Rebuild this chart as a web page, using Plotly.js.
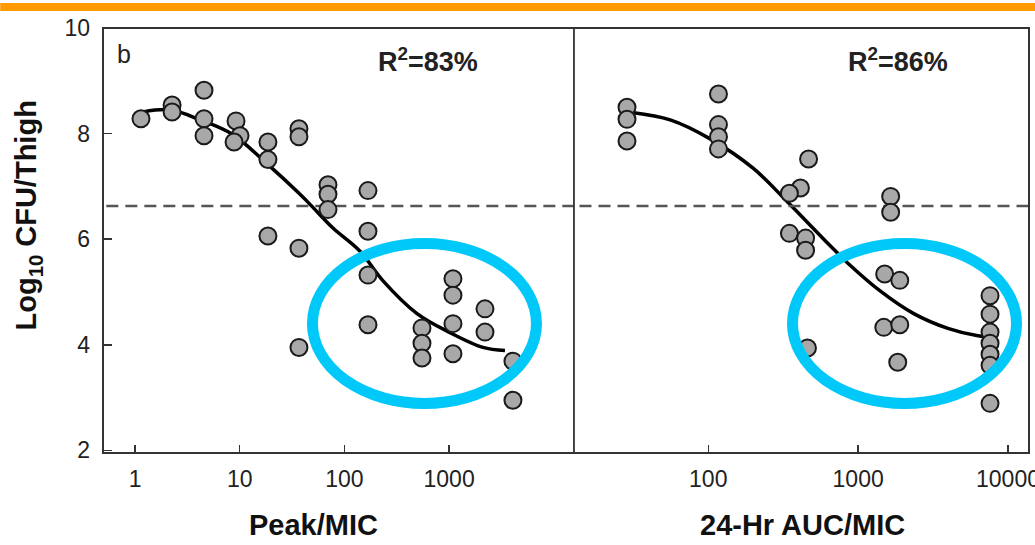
<!DOCTYPE html>
<html>
<head>
<meta charset="utf-8">
<script src="https://cdn.plot.ly/plotly-3.0.1.min.js"></script>
<style>html,body{margin:0;padding:0;background:#fff;}#chart{width:1035px;height:545px;}</style>
</head>
<body>
<div id="chart"></div>
<script>
// Panel a: Peak/MIC
const peakX = [1.14, 2.26, 2.26, 4.56, 4.56, 4.56, 9.22, 10.07, 8.83, 18.6, 18.6, 36.8, 36.8, 18.6, 36.8,
  69.7, 69.7, 69.7, 168, 168, 168, 168, 36.8, 551, 551, 551, 1089, 1089, 1089, 1089, 2203, 2203, 4074, 4074];
const peakY = [8.28, 8.54, 8.41, 8.82, 8.28, 7.96, 8.24, 7.96, 7.84, 7.84, 7.51, 8.09, 7.94, 6.06, 5.83,
  7.03, 6.85, 6.56, 6.92, 6.15, 5.32, 4.38, 3.95, 4.32, 4.03, 3.75, 5.25, 4.94, 4.40, 3.83, 4.68, 4.24, 3.69, 2.95];
const peakFitX = [1.19, 2.16, 4.18, 8.63, 18.2, 37.7, 48, 77.8, 141, 234, 494, 1020, 2107, 3420];
const peakFitY = [8.41, 8.45, 8.26, 7.98, 7.43, 6.85, 6.64, 6.21, 5.77, 5.21, 4.59, 4.23, 3.95, 3.89];

// Panel b: 24-Hr AUC/MIC
const aucX = [28.7, 28.7, 28.7, 117, 117, 117, 117, 467, 412, 348, 348, 446, 446, 459,
  1648, 1648, 1503, 1896, 1483, 1896, 1837, 7586, 7586, 7586, 7586, 7586, 7586, 7586];
const aucY = [8.50, 8.27, 7.86, 8.75, 8.17, 7.94, 7.71, 7.52, 6.97, 6.87, 6.11, 6.02, 5.79, 3.94,
  6.81, 6.51, 5.34, 5.22, 4.33, 4.38, 3.67, 4.93, 4.58, 4.24, 4.03, 3.82, 3.61, 2.89];
const aucFitX = [31, 55.7, 103, 200, 337, 654, 851, 1416, 2350, 3970, 6300, 7130];
const aucFitY = [8.40, 8.26, 7.90, 7.34, 6.71, 5.87, 5.55, 5.01, 4.59, 4.31, 4.17, 4.16];

const threshold = 6.63;
const peakTicks = [1, 10, 100, 1000];
const aucTicks = [100, 1000, 10000];
const yTicks = [2, 4, 6, 8, 10];
const r2Labels = ['R<sup>2</sup>=83%', 'R<sup>2</sup>=86%'];

const FONT = 'Liberation Sans, Arial, Helvetica, sans-serif';
const marker = {size: 17, color: '#a8a8a8', line: {color: '#1a1a1a', width: 2}};
const D = 0.5086;

const traces = [
  {x: peakFitX, y: peakFitY, xaxis: 'x', yaxis: 'y', mode: 'lines', line: {color: '#000', width: 3.5, shape: 'spline'}, hoverinfo: 'skip'},
  {x: aucFitX, y: aucFitY, xaxis: 'x2', yaxis: 'y', mode: 'lines', line: {color: '#000', width: 3.5, shape: 'spline'}, hoverinfo: 'skip'},
  {x: [0.1, 100000], y: [threshold, threshold], xaxis: 'x', yaxis: 'y', mode: 'lines', line: {color: '#555', width: 2.5, dash: '12px,7px'}},
  {x: [1, 1000000], y: [threshold, threshold], xaxis: 'x2', yaxis: 'y', mode: 'lines', line: {color: '#555', width: 2.5, dash: '12px,7px'}},
  {x: peakX, y: peakY, xaxis: 'x', yaxis: 'y', mode: 'markers', marker: marker},
  {x: aucX, y: aucY, xaxis: 'x2', yaxis: 'y', mode: 'markers', marker: marker}
];

const axisCommon = {
  type: 'log', showgrid: false, zeroline: false, showline: false,
  ticks: 'inside', ticklen: 8, tickwidth: 1.5, tickcolor: '#333',
  tickfont: {family: FONT, size: 23, color: '#222'}, ticklabelstandoff: 10,
  ticklabeloverflow: 'allow'
};

const layout = {
  width: 1035, height: 545,
  margin: {l: 103, r: 6, t: 28, b: 92},
  paper_bgcolor: '#fff', plot_bgcolor: '#fff',
  showlegend: false,
  xaxis: Object.assign({}, axisCommon, {domain: [0, D], range: [-0.306, 4.193], tickvals: peakTicks, ticktext: peakTicks.map(String), anchor: 'y'}),
  xaxis2: Object.assign({}, axisCommon, {domain: [D, 1], range: [1.104, 4.140], tickvals: aucTicks, ticktext: aucTicks.map(String), anchor: 'y'}),
  yaxis: {
    domain: [0, 1], range: [1.95, 10], tickvals: yTicks, anchor: 'x',
    showgrid: false, zeroline: false, showline: false,
    ticks: 'inside', ticklen: 9, tickwidth: 1.5, tickcolor: '#333',
    tickfont: {family: FONT, size: 23, color: '#222'}, ticklabelstandoff: 12,
    ticklabeloverflow: 'allow'
  },
  shapes: [
    {type: 'rect', xref: 'paper', yref: 'paper', x0: -0.111, x1: 1.01, y0: 1.04, y1: 1.0588, fillcolor: '#ff9a00', line: {width: 0}},
    {type: 'rect', xref: 'paper', yref: 'paper', x0: 0, x1: 1, y0: 0, y1: 1, line: {color: '#333', width: 2}},
    {type: 'line', xref: 'paper', yref: 'paper', x0: D, x1: D, y0: 0, y1: 1, line: {color: '#333', width: 1.8}},
    {type: 'circle', xref: 'paper', yref: 'paper', x0: 0.2262, x1: 0.4681, y0: 0.1165, y1: 0.4929, line: {color: '#00c8f8', width: 11}},
    {type: 'circle', xref: 'paper', yref: 'paper', x0: 0.7446, x1: 0.9865, y0: 0.1165, y1: 0.4929, line: {color: '#00c8f8', width: 11}}
  ],
  annotations: [
    {xref: 'paper', yref: 'paper', x: -0.081, y: 0.5588, text: 'Log<sub>10</sub> CFU/Thigh', textangle: -90, showarrow: false, xanchor: 'center', yanchor: 'middle', font: {family: FONT, size: 29, color: '#111', weight: 'bold'}},
    {xref: 'paper', yref: 'paper', x: 0.2268, y: -0.169, text: 'Peak/MIC', showarrow: false, xanchor: 'center', yanchor: 'middle', font: {family: FONT, size: 29, color: '#111', weight: 'bold'}},
    {xref: 'paper', yref: 'paper', x: 0.7559, y: -0.169, text: '24-Hr AUC/MIC', showarrow: false, xanchor: 'center', yanchor: 'middle', font: {family: FONT, size: 29, color: '#111', weight: 'bold'}},
    {xref: 'paper', yref: 'paper', x: 0.0227, y: 0.9388, text: 'b', showarrow: false, xanchor: 'center', yanchor: 'middle', font: {family: FONT, size: 25, color: '#222'}},
    {xref: 'paper', yref: 'paper', x: 0.351, y: 0.925, text: r2Labels[0], showarrow: false, xanchor: 'center', yanchor: 'middle', font: {family: FONT, size: 27, color: '#222', weight: 'bold'}},
    {xref: 'paper', yref: 'paper', x: 0.8585, y: 0.925, text: r2Labels[1], showarrow: false, xanchor: 'center', yanchor: 'middle', font: {family: FONT, size: 27, color: '#222', weight: 'bold'}}
  ]
};

Plotly.newPlot('chart', traces, layout, {displayModeBar: false, staticPlot: true});
</script>
</body>
</html>
